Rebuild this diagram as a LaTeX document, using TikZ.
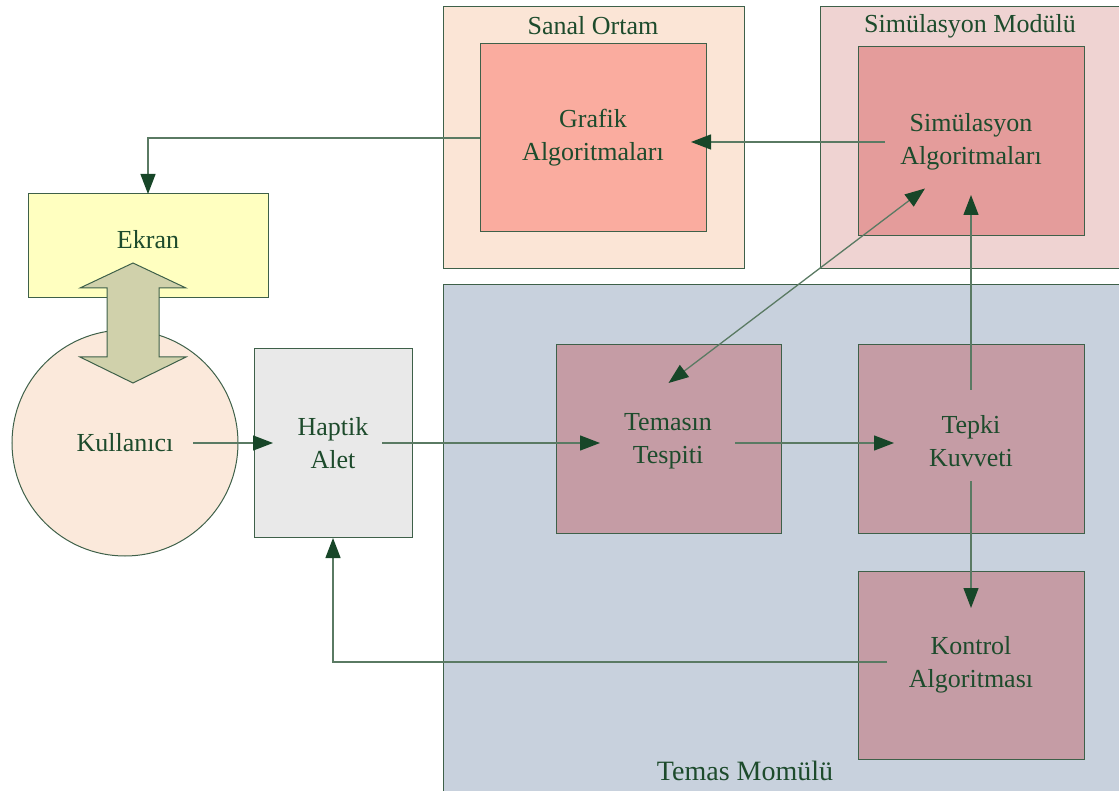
\documentclass[tikz,border=0pt]{standalone}
\usepackage{fontspec}
\setmainfont{Liberation Serif}
\usetikzlibrary{arrows.meta,calc}
\definecolor{txtgreen}{HTML}{1D4B2C}
\definecolor{bordgreen}{HTML}{3E6049}
\definecolor{linegreen}{HTML}{5A7A63}
\definecolor{headgreen}{HTML}{174628}
\definecolor{sanalbg}{HTML}{FBE5D6}
\definecolor{grafikbg}{HTML}{FAAC9F}
\definecolor{simbg}{HTML}{EFD3D2}
\definecolor{siminbg}{HTML}{E49C9B}
\definecolor{temasbg}{HTML}{C8D1DD}
\definecolor{teminbg}{HTML}{C59CA5}
\definecolor{haptikbg}{HTML}{E9E9E9}
\definecolor{ekranbg}{HTML}{FFFFC0}
\definecolor{kulbg}{HTML}{FBE9DB}
\definecolor{dblbg}{HTML}{D0D1AB}
\tikzset{
  box/.style={draw=bordgreen, line width=1pt, anchor=north west, inner sep=0pt, outer sep=0pt,
    text=txtgreen, align=center, font=\fontsize{26}{33}\selectfont},
  lbl/.style={text=txtgreen, inner sep=0pt, font=\fontsize{26}{33}\selectfont, align=center},
  arr/.style={draw=linegreen, line width=1.3pt,
    -{Triangle[length=20pt,width=15pt,color=headgreen,fill=headgreen]}},
  dblarr/.style={draw=linegreen, line width=1.3pt,
    {Triangle[length=20pt,width=15pt,color=headgreen,fill=headgreen]}-{Triangle[length=20pt,width=15pt,color=headgreen,fill=headgreen]}}
}
\begin{document}
\begin{tikzpicture}[x=1pt,y=-1pt]
\useasboundingbox (0,0) rectangle (1119,791);
% outer modules
\node[box, fill=temasbg, minimum width=680pt, minimum height=520pt] (temas) at (443,285) {};
\node[box, fill=simbg, minimum width=302pt, minimum height=262pt] (simmod) at (820,7) {};
\node[box, fill=sanalbg, minimum width=301pt, minimum height=262pt] (sanal) at (443,7) {};
\node[lbl] (sanallbl) at (593,26) {Sanal Ortam};
\node[lbl] (simlbl) at (970,26) {Simülasyon Modülü};
\node[lbl, font=\fontsize{28}{33}\selectfont] (temaslbl) at (745,771) {Temas Momülü};
% inner boxes
\node[box, fill=grafikbg, minimum width=226pt, minimum height=188pt] (grafik) at (480,44) {Grafik\\Algoritmaları};
\node[box, fill=siminbg, minimum width=226pt, minimum height=189pt] (sim) at (858,47) {Simülasyon\\Algoritmaları};
\node[box, fill=teminbg, minimum width=225pt, minimum height=188pt] (tem) at (556,345) {};
\node[lbl] (temlbl) at (668,441) {Temasın\\Tespiti};
\node[box, fill=teminbg, minimum width=226pt, minimum height=188pt] (tep) at (858,345) {};
\node[lbl] (teplbl) at (971,441) {Tepki\\Kuvveti};
\node[box, fill=teminbg, minimum width=226pt, minimum height=188pt] (kon) at (858,571) {Kontrol\\Algoritması};
\node[box, fill=haptikbg, minimum width=158pt, minimum height=188pt] (hap) at (254,349) {Haptik\\Alet};
\node[box, fill=ekranbg, minimum width=240pt, minimum height=104pt] (ekran) at (28,194) {};
\node[lbl] (ekranlbl) at (148,240) {Ekran};
\node[draw=bordgreen, line width=1pt, fill=kulbg, circle, minimum size=226pt, inner sep=0pt, outer sep=0pt] (kul) at (125,443) {};
\node[lbl] (kullbl) at (125,443) {Kullanıcı};
% double arrow between Ekran and Kullanıcı
\filldraw[draw=bordgreen, line width=1pt, fill=dblbg]
  (133,263) -- (186,288) -- (159,288) -- (159,357) -- (186,357) -- (133,383)
  -- (80,357) -- (107,357) -- (107,288) -- (80,288) -- cycle;
% connectors
\draw[arr] (grafik.west) -| (ekran.north);
\draw[arr] ($(sim.west)+(27,0.5)$) -- ($(grafik.east)+(-15,4)$);
\draw[dblarr] ($(tem.north)+(0,38)$) -- ($(sim.center)+(-46,47)$);
\draw[arr] ($(tep.north)+(0,45)$) -- ($(sim.south)+(0,-41)$);
\draw[arr] ($(tep.south)+(0,-52)$) -- ($(kon.north)+(0,37)$);
\draw[arr] ($(kon.west)+(29,-3)$) -| ($(hap.south)+(0,1)$);
\draw[arr] ($(kul.center)+(68,0)$) -- ($(hap.west |- kul.center)+(19,0)$);
\draw[arr] ($(hap.center)+(49,0)$) -- ($(tem.west |- hap.center)+(44,0)$);
\draw[arr] ($(tem.center |- hap.center)+(66.5,0)$) -- ($(tep.west |- hap.center)+(36,0)$);
\end{tikzpicture}
\end{document}
